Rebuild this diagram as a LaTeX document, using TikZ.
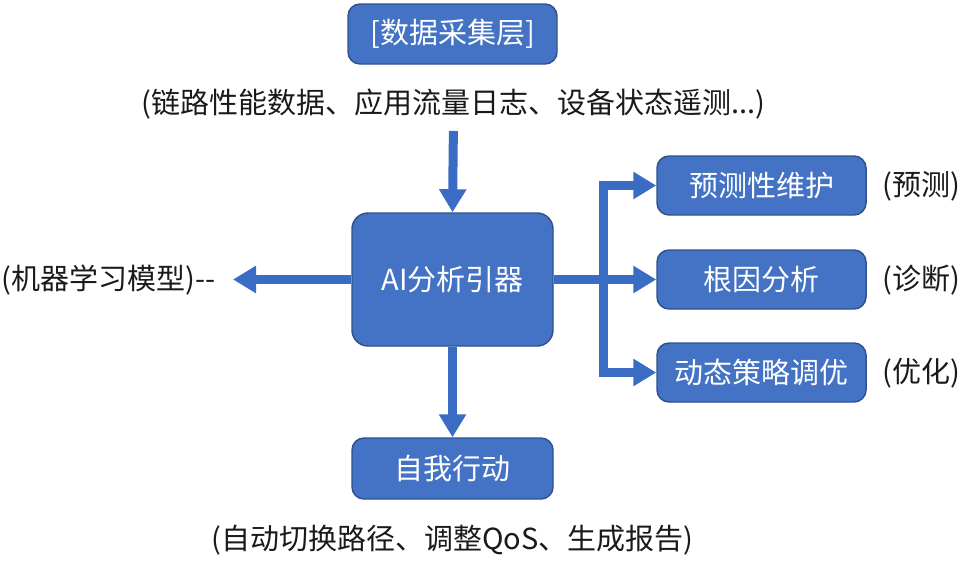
\documentclass[tikz,border=0pt]{standalone}
\usepackage{fontspec}
\setmainfont{Noto Sans CJK SC}
\usetikzlibrary{arrows.meta}

\definecolor{boxfill}{RGB}{68,114,196}
\definecolor{boxedge}{RGB}{47,82,143}
\definecolor{flowblue}{RGB}{59,108,196}
\definecolor{txtgray}{RGB}{26,26,26}

\tikzset{every picture/.style={line width=0.75pt}}
\tikzset{
  box/.style={draw=boxedge, line width=1.1pt, fill=boxfill, text=white, rounded corners=9pt, inner sep=0pt, font=\fontsize{21.75}{26}\selectfont},
  lbl/.style={text=txtgray, inner sep=0pt, font=\fontsize{21.75}{26}\selectfont},
  flow/.style={draw=flowblue, line width=6.75pt, -{Triangle[width=19.5pt,length=17.25pt]}},
  bar/.style={draw=flowblue, line width=6.75pt}
}

\begin{document}
\begin{tikzpicture}[x=0.75pt,y=0.75pt,yscale=-1,xscale=1]
	\useasboundingbox (0,0) rectangle (969,568);

	%Box: data layer
	\node[box, minimum width=156.75pt, minimum height=45pt] (src) at (452.5,34) {[数据采集层]};
	\node[lbl] (srctxt) at (453.5,104) {(链路性能数据、应用流量日志、设备状态遥测...)};
	%Box: engine
	\node[box, rounded corners=12pt, minimum width=150.75pt, minimum height=99.75pt] (ai) at (452.5,279.5) {AI分析引器};
	%Box: action
	\node[box, minimum width=150.75pt, minimum height=45.75pt] (act) at (452.5,468.5) {自我行动};
	\node[lbl] (acttxt) at (452.5,540) {(自动切换路径、调整QoS、生成报告)};
	%Left label
	\node[lbl, anchor=east] (ml) at (216,280) {(机器学习模型){-}{-}};
	%Boxes: right column
	\node[box, minimum width=156.75pt, minimum height=44.25pt] (pm) at (761.5,185.5) {预测性维护};
	\node[box, minimum width=156.75pt, minimum height=44.25pt] (rc) at (761.5,279.5) {根因分析};
	\node[box, minimum width=156.75pt, minimum height=44.25pt] (po) at (761.5,372.5) {动态策略调优};
	\node[lbl, anchor=west] (pmtag) at (882,186) {(预测)};
	\node[lbl, anchor=west] (rctag) at (882,280) {(诊断)};
	\node[lbl, anchor=west] (potag) at (882,373) {(优化)};
	\coordinate (split) at (603,279.5);

	%Connectors
	\draw[flow, shorten <=8.5pt] (srctxt.south) -- (ai.north);
	\draw[flow, shorten >=12.75pt] (ai.west) -- (ml.east |- ai.west);
	\draw[flow] (ai.south) -- (act.north);
	\draw[bar] (ai.east) -- (split);
	\draw[bar, line cap=rect] (split |- pm.west) -- (split |- po.west);
	\draw[flow] (split |- pm.west) -- (pm.west);
	\draw[flow] (split |- rc.west) -- (rc.west);
	\draw[flow] (split |- po.west) -- (po.west);

\end{tikzpicture}
\end{document}
